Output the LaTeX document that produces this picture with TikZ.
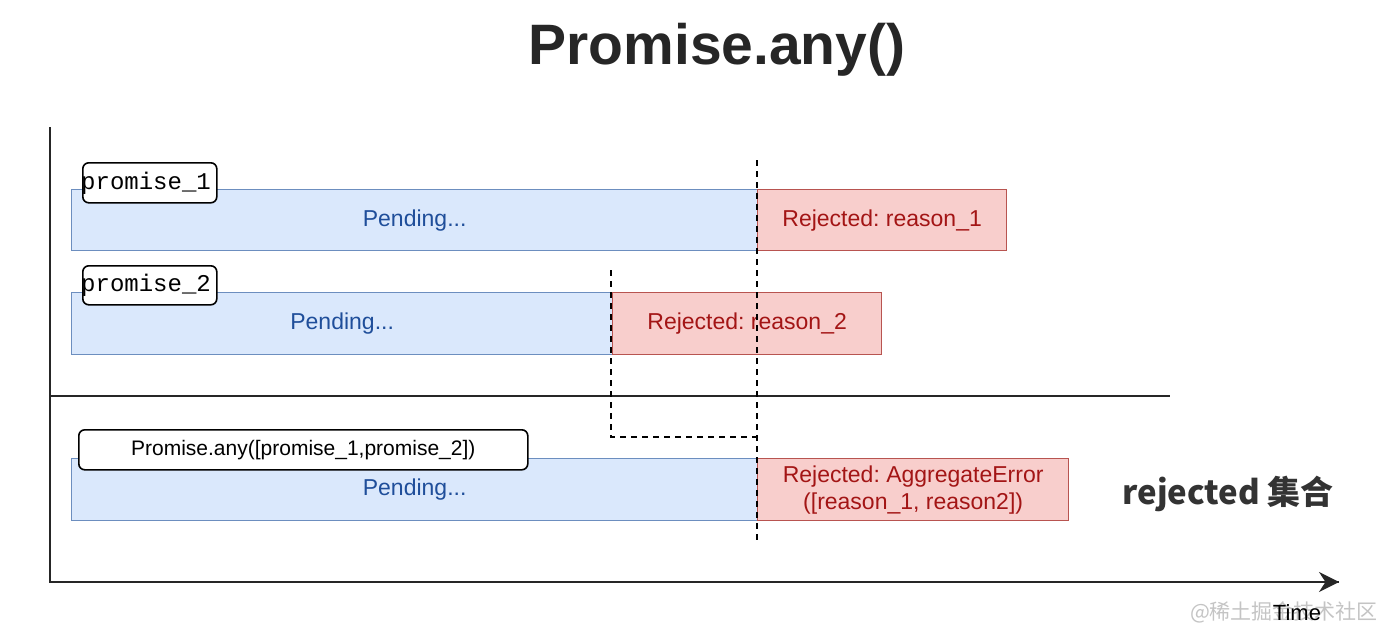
\documentclass[tikz,border=0pt]{standalone}
\usepackage{fontspec}
\setmainfont{Liberation Sans}
\setmonofont{Liberation Mono}
\newfontfamily\cjk{Noto Sans CJK SC}
\usetikzlibrary{arrows.meta}
\frenchspacing
\definecolor{bfill}{HTML}{DAE8FC}
\definecolor{bdraw}{HTML}{6C8EBF}
\definecolor{btext}{HTML}{1F4E9A}
\definecolor{rfill}{HTML}{F8CECC}
\definecolor{rdraw}{HTML}{B85450}
\definecolor{rtext}{HTML}{A31515}
\definecolor{wm}{HTML}{C4C4C4}
\tikzset{
  bluebox/.style={draw=bdraw, fill=bfill, line width=1.3pt, anchor=north west, inner sep=0pt,
    font=\fontsize{23}{27}\selectfont, text=btext},
  redbox/.style={draw=rdraw, fill=rfill, line width=1.3pt, anchor=north west, inner sep=0pt,
    font=\fontsize{23}{27}\selectfont, text=rtext, align=center},
  tagbox/.style={draw=black, fill=white, line width=1.6pt, rounded corners=6pt, anchor=north west,
    inner sep=0pt},
  axisline/.style={line width=2pt, black!85},
  dline/.style={line width=2.2pt, dash pattern=on 6pt off 5pt, black},
}
\begin{document}
\begin{tikzpicture}[x=1pt,y=-1pt]
\useasboundingbox (0,0) rectangle (1400,637);

% title
\node[font=\bfseries\fontsize{57}{60}\selectfont, text=black!85] (title) at (717,50) {Promise.any()};

% row 1
\node[bluebox, minimum width=686, minimum height=61] (p1) at (71,189) {Pending...};
\node[redbox, minimum width=249, minimum height=61] (r1) at (757,189) {Rejected: reason\_1};
\node[tagbox, minimum width=134, minimum height=40] (t1) at (82,162) {};
\node[anchor=west, inner sep=0pt, font=\ttfamily\fontsize{24}{26}\selectfont] (t1txt) at (81,183) {promise\_1};

% row 2
\node[bluebox, minimum width=541, minimum height=62] (p2) at (71,292) {Pending...};
\node[redbox, minimum width=269, minimum height=62] (r2) at (612,292) {Rejected: reason\_2};
\node[tagbox, minimum width=134, minimum height=39] (t2) at (82,265) {};
\node[anchor=west, inner sep=0pt, font=\ttfamily\fontsize{24}{26}\selectfont] (t2txt) at (81,285) {promise\_2};

% row 3
\node[bluebox, minimum width=686, minimum height=62] (p3) at (71,458) {Pending...};
\node[redbox, minimum width=311, minimum height=62] (r3) at (757,458) {Rejected: AggregateError\\([reason\_1, reason2])};
\node[tagbox, minimum width=449, minimum height=40, font=\fontsize{21}{24}\selectfont] (t3) at (78,429) {Promise.any([promise\_1,promise\_2])};

% separator
\coordinate (s1) at (50,396);
\coordinate (s2) at (1170,396);
\draw[axisline, line width=1.8pt] (s1) -- (s2);

% dashed lines
\coordinate (d1a) at (757,160);
\coordinate (d1b) at (757,543);
\draw[dline] (d1a) -- (d1b);
\coordinate (d2a) at (611,270);
\coordinate (d2b) at (611,437);
\coordinate (d2c) at (757,437);
\draw[dline] (d2a) -- (d2b) -- (d2c);

% axes
\coordinate (ytop) at (50,127);
\coordinate (orig) at (50,582);
\coordinate (xend) at (1339,582);
\draw[axisline] (ytop) -- (orig) -- (xend);
\draw[axisline, -{Stealth[length=20pt,width=20pt]}] (1300,582) -- (xend);

% side note
\node[font=\cjk\bfseries\fontsize{33}{36}\selectfont, text=black!80] (note) at (1228,494) {rejected 集合};

% watermark and time label
\node[font=\cjk\fontsize{21}{24}\selectfont, text=wm] (wmk) at (1284,612) {@稀土掘金技术社区};
\node[font=\fontsize{22}{24}\selectfont, text=black] (time) at (1297,613) {Time};
\end{tikzpicture}
\end{document}
